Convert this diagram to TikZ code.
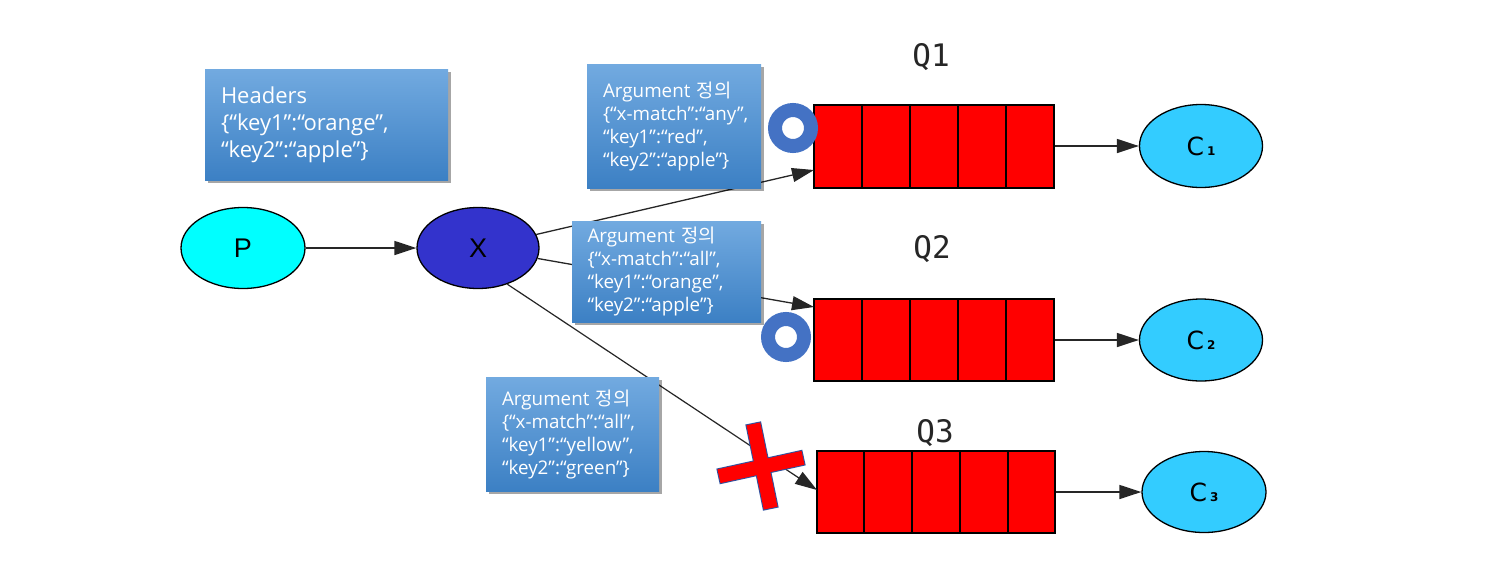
\documentclass[tikz,border=0pt]{standalone}
\usepackage{fontspec}
\setmainfont{Liberation Sans}
\newfontfamily\kr{Noto Sans CJK KR}
\newfontfamily\boxfont{Open Sans}
\newfontfamily\monofont{DejaVu Sans Mono}
\newfontfamily\dvs{DejaVu Sans}
\usetikzlibrary{arrows.meta,shapes.geometric,shadows}
\definecolor{boxtop}{HTML}{72AAE0}
\definecolor{boxbot}{HTML}{3C80C4}
\definecolor{pcyan}{HTML}{00FFFF}
\definecolor{xblue}{HTML}{3333CC}
\definecolor{ccyan}{HTML}{33CCFF}
\definecolor{ringblue}{HTML}{4472C4}
\definecolor{crossblue}{HTML}{2F52A0}
\tikzset{
  argbox/.style={rectangle, top color=boxtop, bottom color=boxbot, draw=none,
    text=white, align=left, inner xsep=16pt, inner ysep=0pt,
    font=\boxfont\fontsize{18.8}{23}\selectfont,
    drop shadow={shadow xshift=3pt, shadow yshift=-3pt, opacity=0.35, fill=black}},
  ellnode/.style={ellipse, draw=black, line width=1.3pt, inner sep=0pt},
  queue/.style={rectangle, draw=black, fill=red, line width=1.3pt, inner sep=0pt},
  edge/.style={line width=1.5pt, draw=black!85, -{Triangle[length=22pt,width=14pt]}},
  ring/.style={circle, draw=ringblue, line width=14pt, fill=white, minimum size=36pt, inner sep=0pt},
  crossbar/.style={rectangle, minimum width=86pt, minimum height=14pt, inner sep=0pt},
  qlabel/.style={font=\monofont\fontsize{31}{31}\selectfont, text=black!85},
  clabel/.style={font=\dvs\fontsize{25}{25}\selectfont}
}
\newcommand{\csub}[1]{C\kern3pt{\fontsize{12}{12}\selectfont\bfseries #1}}
\begin{document}
\begin{tikzpicture}[x=1pt,y=-1pt]
\useasboundingbox[fill=white] (0,0) rectangle (1490,584);

% main nodes
\node[ellnode, fill=pcyan, minimum width=124pt, minimum height=81pt, font=\fontsize{27}{27}\selectfont] (p) at (243,248) {P};
\node[ellnode, fill=xblue, minimum width=122pt, minimum height=81pt, font=\fontsize{27}{27}\selectfont] (x) at (478,248) {X};

\node[queue, minimum width=240pt, minimum height=83pt] (q1) at (934,146.5) {};
\node[queue, minimum width=240pt, minimum height=82pt] (q2) at (934,340) {};
\node[queue, minimum width=238pt, minimum height=82pt] (q3) at (936,492) {};
\foreach \q/\x/\ya/\yb in {q1/0/105/188, q2/0/299/381, q3/2/451/533}{
  \foreach \i in {1,2,3,4}{
    \draw[line width=1.3pt] (814+\x+48*\i,\ya) -- (814+\x+48*\i,\yb);
  }
}

\node[qlabel] (l1) at (931,57) {Q1};
\node[qlabel] (l2) at (932,249) {Q2};
\node[qlabel] (l3) at (935,433) {Q3};

\node[ellnode, fill=ccyan, minimum width=123pt, minimum height=83pt, clabel] (c1) at (1201,146) {\csub{1}};
\node[ellnode, fill=ccyan, minimum width=123pt, minimum height=82pt, clabel] (c2) at (1201,340) {\csub{2}};
\node[ellnode, fill=ccyan, minimum width=124pt, minimum height=81pt, clabel] (c3) at (1204,492) {\csub{3}};

% inbound points of queues
\coordinate (q1in) at (814,170);
\coordinate (q2in) at (814,307);
\coordinate (q3in) at (817,490);

% connectors
\draw[edge] (p) -- (x);
\draw[edge, line width=1.3pt] (x) -- (q1in);
\draw[edge, line width=1.3pt] (x) -- (q2in);
\draw[edge, line width=1.2pt] (x.-51) -- (q3in);
\draw[edge] (q1.east |- c1.west) -- (c1.west);
\draw[edge] (q2.east |- c2.west) -- (c2.west);
\draw[edge] (q3.east |- c3.west) -- (c3.west);

% text boxes
\node[argbox, text width=211pt, minimum height=111pt, font=\boxfont\fontsize{22}{27}\selectfont] (hdr) at (326.5,124.5)
  {\mbox{Headers}\\\mbox{\{“key1”:“orange”,}\\\mbox{“key2”:“apple”\}}};
\node[argbox, text width=142pt, minimum height=124pt] (a1) at (674,126)
  {\mbox{Argument {\kr 정의}}\\\mbox{\{“x-match”:“any”,}\\\mbox{“key1”:“red”,}\\\mbox{“key2”:“apple”\}}};
\node[argbox, text width=158pt, minimum height=101pt, inner xsep=15.5pt] (a2) at (666.5,271.5)
  {\mbox{Argument {\kr 정의}}\\\mbox{\{“x-match”:“all”,}\\\mbox{“key1”:“orange”,}\\\mbox{“key2”:“apple”\}}};
\node[argbox, text width=141pt, minimum height=114pt] (a3) at (572.5,434)
  {\mbox{Argument {\kr 정의}}\\\mbox{\{“x-match”:“all”,}\\\mbox{“key1”:“yellow”,}\\\mbox{“key2”:“green”\}}};

% rings
\node[ring] (r1) at (793,128) {};
\node[ring] (r2) at (786,337) {};

% red cross
\node[crossbar, draw=crossblue, line width=2pt, rotate=12.4] (xa) at (761,467) {};
\node[crossbar, draw=crossblue, line width=2pt, rotate=101.6] (xb) at (762,466) {};
\node[crossbar, fill=red, rotate=12.4] (xa2) at (761,467) {};
\node[crossbar, fill=red, rotate=101.6] (xb2) at (762,466) {};
\end{tikzpicture}
\end{document}
